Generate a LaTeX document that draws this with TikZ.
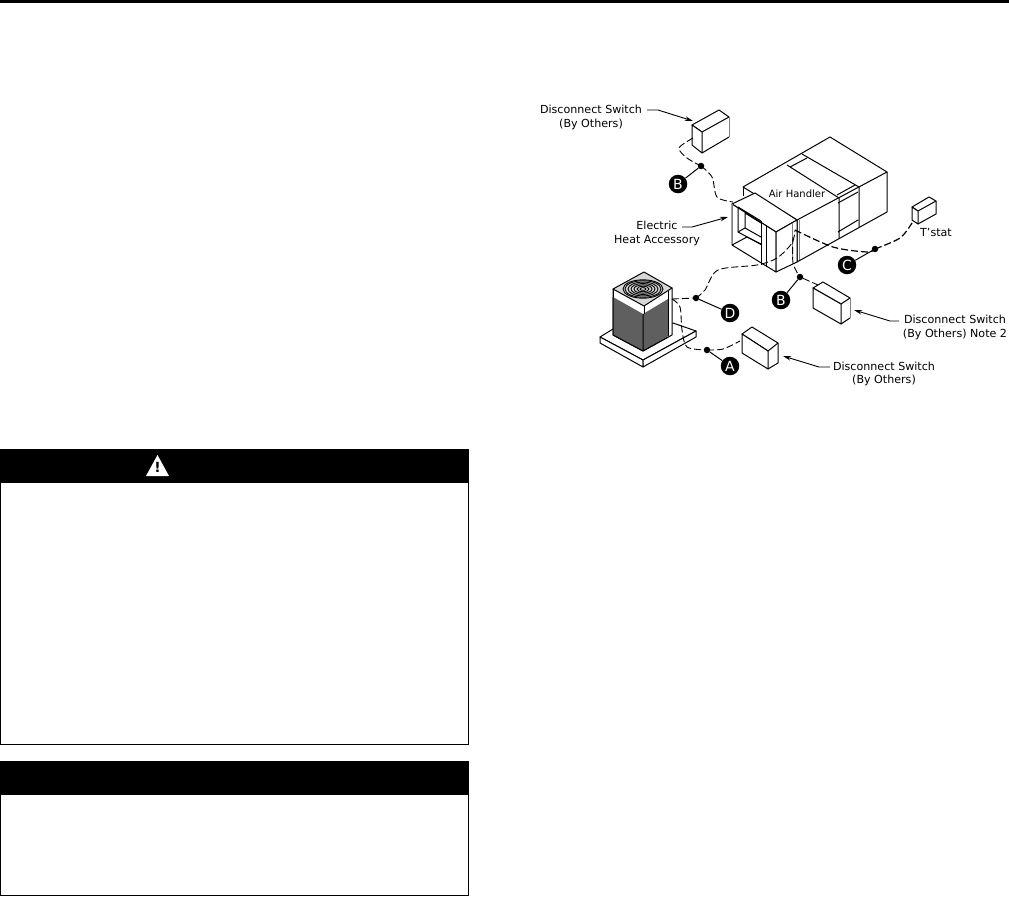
\documentclass[tikz,border=0pt]{standalone}
\usepackage{fontspec}
\setmainfont{DejaVu Sans}
\usetikzlibrary{arrows.meta, positioning, calc}
\definecolor{unitgray}{RGB}{95, 95, 95}
\definecolor{lidgray}{RGB}{215, 215, 215}

\begin{document}
\begin{tikzpicture}[x=1pt, y=-1pt,
  label/.style={align=center, inner sep=0pt, font=\fontsize{11.1}{13.4}\selectfont},
  banner/.style={fill=black, minimum width=469pt, minimum height=34pt, inner sep=0pt},
  panel/.style={draw=black, line width=0.8pt, minimum width=468pt, inner sep=0pt},
  badge/.style={circle, fill=black, text=white, minimum size=18.5pt, inner sep=0pt, font=\fontsize{14}{14}\selectfont},
  joint/.style={circle, fill=black, minimum size=6.5pt, inner sep=0pt},
  wire/.style={dash pattern=on 7pt off 3pt, line width=0.9pt},
  leader/.style={line width=1pt},
  arrow/.style={-{Stealth[length=8pt, width=4.5pt]}, line width=0.9pt},
  outline/.style={line width=1pt, line join=round},
  soft/.style={line width=1pt, draw=gray}
]
\useasboundingbox (0,0) rectangle (1009,897);

% Top rule
\fill (0,0) rectangle (1009,2.6);

% Warning boxes
\node[panel, minimum height=295pt] (warnbox) at (234.5,596.5) {};
\node[banner] (warnhead) at (234.5,466) {};
\fill[white] (157.5,455) -- (146,476) -- (169,476) -- cycle;
\node[inner sep=0pt, font=\bfseries\fontsize{14}{14}\selectfont] (warnmark) at (157.5,467.5) {!};
\node[panel, minimum height=134pt] (notebox) at (234.5,828) {};
\node[banner] (notehead) at (234.5,778) {};

% Air handler
\draw[outline] (743,187) -- (830,137) -- (887,172) -- (797,220) -- cycle;
\draw[outline] (887,172) -- (887,212) -- (797,262) -- (797,220);
\draw[outline] (743,187) -- (743,196);
\draw[outline] (787,165) -- (839,198) (802,154) -- (859,187);
\draw[outline] (790,167) -- (807,158) (837,195) -- (855,185) (838,203) -- (858,192);
\draw[outline] (839,198) -- (839,238) (859,187) -- (859,227) (838,232) -- (858,220);

% Electric heat accessory
\draw[outline, fill=white] (732,204) -- (755,193) -- (797,220) -- (776,232) -- cycle;
\draw[outline, fill=white] (732,204) -- (776,232) -- (776,272) -- (732,245) -- cycle;
\draw[outline, fill=white] (776,232) -- (797,220) -- (797,262) -- (776,272) -- cycle;
\draw[soft] (732,204) -- (732,245) (792,223) -- (792,260) (799,220) -- (799,260);
\draw[outline] (738,207) -- (738,232) -- (762,245) (738,207) -- (761,221);
\draw[outline] (745,213) -- (745,228) -- (761,237) (745,213) -- (761,223);
\draw[outline] (738,232) -- (745,228) (732,245) -- (747,237) -- (761,244);
\draw[outline] (761,221) -- (761,265) (766,225) -- (766,267);

% Switches
\draw[outline, fill=white] (692,125) -- (719,110) -- (729,117) -- (702,132) -- cycle;
\draw[outline, fill=white] (692,125) -- (702,132) -- (702,153) -- (692,145) -- cycle;
\draw[outline] (702,153) -- (729,137);
\draw[soft] (729,117) -- (729,137);
\coordinate (topbox) at (693,121);
\coordinate (topboxwire) at (693,138);

\draw[outline, fill=white] (813,288) -- (823,282) -- (850,298) -- (841,304) -- cycle;
\draw[outline, fill=white] (813,288) -- (841,304) -- (841,324) -- (813,308) -- cycle;
\draw[outline] (841,324) -- (850,318);
\draw[soft] (850,298) -- (850,318);
\coordinate (rightbox) at (854,310);
\coordinate (rightboxwire) at (818,285);

\draw[outline, fill=white] (742,334) -- (752,327) -- (778,343) -- (768,351) -- cycle;
\draw[outline, fill=white] (742,334) -- (768,351) -- (768,369) -- (742,353) -- cycle;
\draw[outline] (768,369) -- (778,363) -- (778,343);
\coordinate (lowbox) at (783,356);
\coordinate (lowboxwire) at (740,341);

% T'stat
\draw[outline, fill=white] (912,207) -- (929,197) -- (936,201) -- (918,211) -- cycle;
\draw[outline, fill=white] (912,207) -- (918,211) -- (918,224) -- (912,220) -- cycle;
\draw[outline] (918,224) -- (936,214) -- (936,201);
\coordinate (tstatwire) at (912,223);

% Outdoor unit
\draw[outline, fill=white] (600,337) -- (613,329) -- (673,323) -- (696,331) -- (643,360) -- cycle;
\draw[outline, fill=white] (600,337) -- (643,360) -- (643,367) -- (600,343) -- cycle;
\draw[outline, fill=white] (643,360) -- (696,331) -- (696,337) -- (643,367) -- cycle;
\draw[outline, fill=white] (613,289) -- (613,335) -- (643,351) -- (672,335) -- (672,288) -- cycle;
\fill[unitgray] (613,297) -- (643,314) -- (668,299) -- (668,336) -- (643,351) -- (613,335) -- cycle;
\draw[outline] (613,297) -- (613,335) -- (643,351) -- (668,337) (643,314) -- (643,351);
\draw[outline, fill=lidgray] (613,289) -- (644,272) -- (672,288) -- (644,306) -- cycle;
\draw[outline] (613,289) -- (613,297) (644,306) -- (644,314) (668,291) -- (668,336);
% Fan rings
\foreach \r in {3,6,9,12,15,18,20}
  \draw[line width=0.9pt] (643,289) ellipse ({\r pt} and {0.46*\r pt});
\coordinate (unitwire) at (672,299);

% Labels
\node[label] (swtoplabel) at (591,117.5) {Disconnect Switch\\(By Others)};
\node[label] (heatlabel) at (657,233.5) {Electric\\Heat Accessory};
\node[label, font=\fontsize{10}{12}\selectfont] (ahlabel) at (797,194) {Air Handler};
\node[label] (tstatlabel) at (936,233) {T'stat};
\node[label] (swrightlabel) at (955,327.5) {Disconnect Switch\\(By Others) Note 2};
\node[label] (swlowlabel) at (884,374) {Disconnect Switch\\(By Others)};

% Joints and badges
\node[joint] (jointtop) at (701,166) {};
\node[joint] (jointright) at (800,277) {};
\node[joint] (jointstat) at (875,249) {};
\node[joint] (jointunit) at (696,298) {};
\node[joint] (jointlow) at (707,350) {};
\node[badge] (badgetop) at (678,184) {B};
\node[badge] (badgeright) at (781,300) {B};
\node[badge] (badgestat) at (847,265) {C};
\node[badge] (badgeunit) at (730,313) {D};
\node[badge] (badgelow) at (730,366) {A};
\draw[leader] (jointtop) -- (badgetop);
\draw[leader] (jointright) -- (badgeright);
\draw[leader] (jointstat) -- (badgestat);
\draw[leader] (jointunit) -- (badgeunit);
\draw[leader] (jointlow) -- (badgelow);

% Wires
\coordinate (heattop) at (733,202);
\coordinate (heatfront) at (795,230);
\draw[wire] plot[smooth] coordinates {(topboxwire) (679,148) (687,158) (jointtop.center)};
\draw[wire] plot[smooth] coordinates {(jointtop.center) (712,177) (717,197) (heattop)};
\draw[wire, line width=1.2pt] plot[smooth] coordinates {(heatfront) (833,247) (867,252) (jointstat.center)};
\draw[wire, line width=1.2pt] plot[smooth] coordinates {(jointstat.center) (900,238) (tstatwire)};
\draw[wire] plot[smooth] coordinates {(793,237) (793,263) (jointright.center)};
\draw[wire] (jointright) -- (rightboxwire);
\draw[wire] (unitwire) -- (jointunit);
\draw[wire] plot[smooth] coordinates {(jointunit.center) (705,290) (718,270) (757,265) (777,258) (792,243) (heatfront)};
\draw[wire] plot[smooth] coordinates {(unitwire) (680,307) (682,330) (687,347) (jointlow.center)};
\draw[wire] plot[smooth] coordinates {(jointlow.center) (723,349) (lowboxwire)};

% Arrows
\coordinate (topstart) at (647,110);
\coordinate (heatstart) at (682,227);
\coordinate (rightstart) at (899,321);
\coordinate (lowstart) at (830,367);
\coordinate (heatbox) at (728,217);
\draw[arrow] (topstart) -- ++(11,0) -- (topbox);
\draw[arrow] (heatstart) -- ++(10,0) -- (heatbox);
\draw[arrow] (rightstart) -- ++(-9,0) -- (rightbox);
\draw[arrow] (lowstart) -- ++(-11,0) -- (lowbox);
\end{tikzpicture}
\end{document}
